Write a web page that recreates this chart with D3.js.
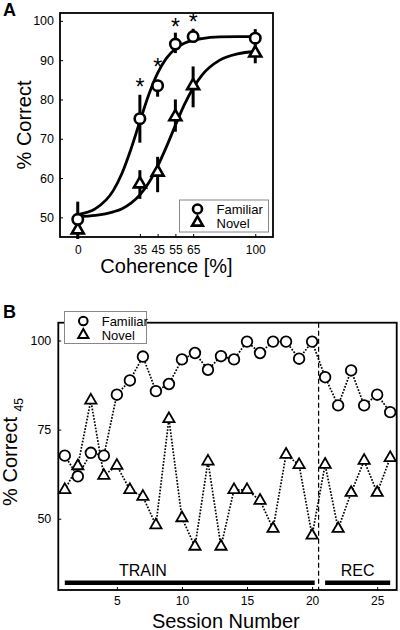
<!DOCTYPE html>
<html><head><meta charset="utf-8">
<script src="https://cdn.jsdelivr.net/npm/d3@7"></script>
<style>
body{margin:0;background:#fff;}
svg{display:block;font-family:"Liberation Sans",Arial,Helvetica,sans-serif;}
</style></head>
<body>
<svg id="c" width="400" height="630"></svg>
<script>
// ---- Panel A data ----
const cohA = [0, 35, 45, 55, 65, 100];
const famA = [49.5, 75.1, 83.5, 94.1, 96.0, 95.6];
const famLo = [46, 69, 80.7, 91.8, 94.8, 93.5];
const famHi = [54, 81.2, 85, 97, 98, 97.9];
const novA = [46.8, 58.5, 61.5, 75.6, 83.5, 91.8];
const novLo = [44.5, 54.7, 56.4, 71.8, 78, 89.2];
const novHi = [50, 62, 65.4, 80, 88.4, 93.5];
const starCoh = [35, 45, 55, 65];
const starY = [84.5, 89.5, 99.6, 100.9];
const fitCoh = [0, 10, 20, 25, 30, 35, 40, 45, 50, 55, 60, 65, 70, 80, 90, 100];
const fitFam = [50.7, 52.2, 56.8, 61.3, 67.4, 74.4, 81.2, 86.7, 90.5, 92.9, 94.3, 95.1, 95.5, 95.9, 96.0, 96.0];
const fitNov = [50.2, 50.5, 51.4, 52.2, 53.6, 55.7, 58.8, 63.0, 68.0, 73.4, 78.6, 82.9, 86.2, 90.0, 91.6, 92.2];
const xTicksA = [0, 35, 45, 55, 65, 100];
const yTicksA = [50, 60, 70, 80, 90, 100];

// ---- Panel B data ----
const sessions = d3.range(1, 27);
const famB = [67.7, 61.9, 68.5, 67.7, 84.8, 88.8, 95.5, 85.8, 87.8, 94.7, 96.5, 91.8, 95.6, 94.7, 99.7, 96.5, 99.7, 99.7, 94.9, 99.7, 89.7, 81.8, 91.6, 81.8, 84.8, 79.9];
const novB = [58.1, 64.8, 83.2, 62.1, 64.9, 58.1, 56.2, 48.2, 78.0, 50.2, 42.2, 66.1, 42.2, 58.1, 58.1, 55.1, 47.2, 68.0, 65.1, 45.3, 65.2, 47.2, 57.3, 66.3, 57.3, 67.1];
const xTicksB = [5, 10, 15, 20, 25];
const yTicksB = [50, 75, 100];
const phases = [{name: "TRAIN", from: 1, to: 20.2, labelAt: 7}, {name: "REC", from: 21, to: 26, labelAt: 23.5}];
const switchAt = 20.5;

const svg = d3.select("#c");

// ================= Panel A =================
const A = {l: 60, r: 273, t: 13, b: 237};
const xA = d3.scaleLinear().domain([-10, 110]).range([A.l, A.r]);
const yA = d3.scaleLinear().domain([45, 102]).range([A.b, A.t]);
const gA = svg.append("g");

const styleAxis = fs => g => { g.select(".domain").remove(); g.selectAll("line").attr("stroke", "#000").attr("stroke-width", 1); g.selectAll("text").attr("font-size", fs).attr("fill", "#000").attr("font-family", "Liberation Sans, Arial"); };

gA.append("g").attr("transform", `translate(0,${A.b})`)
  .call(d3.axisBottom(xA).tickValues(xTicksA).tickSizeInner(-3).tickSizeOuter(0).tickPadding(8))
  .call(styleAxis(12));
gA.append("g").attr("transform", `translate(${A.l},0)`)
  .call(d3.axisLeft(yA).tickValues(yTicksA).tickSizeInner(-3).tickSizeOuter(0).tickPadding(6))
  .call(styleAxis(12.5));
gA.append("rect").attr("x", A.l).attr("y", A.t).attr("width", A.r - A.l).attr("height", A.b - A.t)
  .attr("fill", "none").attr("stroke", "#000").attr("stroke-width", 1.8);

const lineA = (vals) => d3.line().x((d, i) => xA(fitCoh[i])).y(d => yA(d)).curve(d3.curveMonotoneX)(vals);
gA.append("path").attr("d", lineA(fitFam)).attr("fill", "none").attr("stroke", "#000").attr("stroke-width", 2.8);
gA.append("path").attr("d", lineA(fitNov)).attr("fill", "none").attr("stroke", "#000").attr("stroke-width", 2.8);

// error bars
cohA.forEach((c, i) => {
  gA.append("line").attr("x1", xA(c)).attr("x2", xA(c)).attr("y1", yA(famLo[i])).attr("y2", yA(famHi[i])).attr("stroke", "#000").attr("stroke-width", 3);
  gA.append("line").attr("x1", xA(c)).attr("x2", xA(c)).attr("y1", yA(novLo[i])).attr("y2", yA(novHi[i])).attr("stroke", "#000").attr("stroke-width", 3);
});
const triA = d3.symbol(d3.symbolTriangle, 62);
gA.selectAll(".tA").data(novA).join("path").attr("d", triA)
  .attr("transform", (d, i) => `translate(${xA(cohA[i])},${yA(d)})`)
  .attr("fill", "#fff").attr("stroke", "#000").attr("stroke-width", 2.6);
gA.selectAll(".cA").data(famA).join("circle")
  .attr("cx", (d, i) => xA(cohA[i])).attr("cy", d => yA(d)).attr("r", 5.2)
  .attr("fill", "#fff").attr("stroke", "#000").attr("stroke-width", 2.6);
gA.selectAll(".st").data(starY).join("text")
  .attr("x", (d, i) => xA(starCoh[i])).attr("y", d => yA(d) + 13)
  .attr("text-anchor", "middle").attr("font-size", 23).text("*");

// legend A
gA.append("rect").attr("x", 179.5).attr("y", 200).attr("width", 89).attr("height", 32)
  .attr("fill", "#fff").attr("stroke", "#888").attr("stroke-width", 1);
gA.append("circle").attr("cx", 197.5).attr("cy", 209).attr("r", 4.5).attr("fill", "#fff").attr("stroke", "#000").attr("stroke-width", 2.6);
gA.append("path").attr("d", d3.symbol(d3.symbolTriangle, 50)()).attr("transform", "translate(197.5,222.5)").attr("fill", "#fff").attr("stroke", "#000").attr("stroke-width", 2.6);
gA.append("text").attr("x", 216.5).attr("y", 213.5).attr("font-size", 13).text("Familiar");
gA.append("text").attr("x", 216.5).attr("y", 227.5).attr("font-size", 13).text("Novel");

gA.append("text").attr("x", (A.l + A.r) / 2).attr("y", 273).attr("text-anchor", "middle").attr("font-size", 20).text("Coherence [%]");
gA.append("text").attr("transform", `translate(31,${(A.t + A.b) / 2}) rotate(-90)`).attr("text-anchor", "middle").attr("font-size", 20).text("% Correct");
gA.append("text").attr("x", 3).attr("y", 16).attr("font-size", 18).attr("font-weight", "bold").text("A");

// ================= Panel B =================
const B = {l: 58.3, r: 396.7, t: 322.7, b: 590};
const xB = d3.scaleLinear().domain([0.5, 26.5]).range([B.l, B.r]);
const yB = d3.scaleLinear().domain([30, 105]).range([B.b, B.t]);
const gB = svg.append("g");

gB.append("g").attr("transform", `translate(0,${B.b})`)
  .call(d3.axisBottom(xB).tickValues(xTicksB).tickSizeInner(-3).tickSizeOuter(0).tickPadding(6))
  .call(styleAxis(12));
gB.append("g").attr("transform", `translate(${B.l},0)`)
  .call(d3.axisLeft(yB).tickValues(yTicksB).tickSizeInner(-3).tickSizeOuter(0).tickPadding(7))
  .call(styleAxis(12.5));
gB.append("rect").attr("x", B.l).attr("y", B.t).attr("width", B.r - B.l).attr("height", B.b - B.t)
  .attr("fill", "none").attr("stroke", "#000").attr("stroke-width", 1.8);

gB.append("line").attr("x1", xB(switchAt)).attr("x2", xB(switchAt)).attr("y1", B.t).attr("y2", B.b)
  .attr("stroke", "#000").attr("stroke-width", 1.2).attr("stroke-dasharray", "5,3");

phases.forEach(p => {
  gB.append("line").attr("x1", xB(p.from)).attr("x2", xB(p.to)).attr("y1", 582.7).attr("y2", 582.7)
    .attr("stroke", "#000").attr("stroke-width", 4.5);
  gB.append("text").attr("x", xB(p.labelAt)).attr("y", 576).attr("text-anchor", "middle").attr("font-size", 16).text(p.name);
});

const lineB = d3.line().x((d, i) => xB(sessions[i])).y(d => yB(d));
gB.append("path").attr("d", lineB(famB)).attr("fill", "none").attr("stroke", "#000").attr("stroke-width", 1.7).attr("stroke-dasharray", "1.7,1.5");
gB.append("path").attr("d", lineB(novB)).attr("fill", "none").attr("stroke", "#000").attr("stroke-width", 1.7).attr("stroke-dasharray", "1.7,1.5");

const triB = d3.symbol(d3.symbolTriangle, 55);
gB.selectAll(".tB").data(novB).join("path").attr("d", triB)
  .attr("transform", (d, i) => `translate(${xB(sessions[i])},${yB(d)})`)
  .attr("fill", "#fff").attr("stroke", "#000").attr("stroke-width", 1.8);
gB.selectAll(".cB").data(famB).join("circle")
  .attr("cx", (d, i) => xB(sessions[i])).attr("cy", d => yB(d)).attr("r", 5.3)
  .attr("fill", "#fff").attr("stroke", "#000").attr("stroke-width", 1.8);

// legend B
gB.append("rect").attr("x", 64.5).attr("y", 311.5).attr("width", 82).attr("height", 32)
  .attr("fill", "#fff").attr("stroke", "#888").attr("stroke-width", 1);
gB.append("circle").attr("cx", 83.3).attr("cy", 321).attr("r", 4.3).attr("fill", "#fff").attr("stroke", "#000").attr("stroke-width", 2);
gB.append("path").attr("d", d3.symbol(d3.symbolTriangle, 45)()).attr("transform", "translate(83.3,335)").attr("fill", "#fff").attr("stroke", "#000").attr("stroke-width", 2);
gB.append("text").attr("x", 101.7).attr("y", 325.5).attr("font-size", 13).text("Familiar");
gB.append("text").attr("x", 101.7).attr("y", 339.5).attr("font-size", 13).text("Novel");

gB.append("text").attr("x", 225.8).attr("y", 627.5).attr("text-anchor", "middle").attr("font-size", 20).text("Session Number");
const yl = gB.append("text").attr("transform", `translate(17,452) rotate(-90)`).attr("text-anchor", "middle").attr("font-size", 20);
yl.append("tspan").text("% Correct ");
yl.append("tspan").attr("font-size", 12).attr("dy", 6).text("45");
gB.append("text").attr("x", 3).attr("y", 318).attr("font-size", 18).attr("font-weight", "bold").text("B");
</script>
</body></html>
